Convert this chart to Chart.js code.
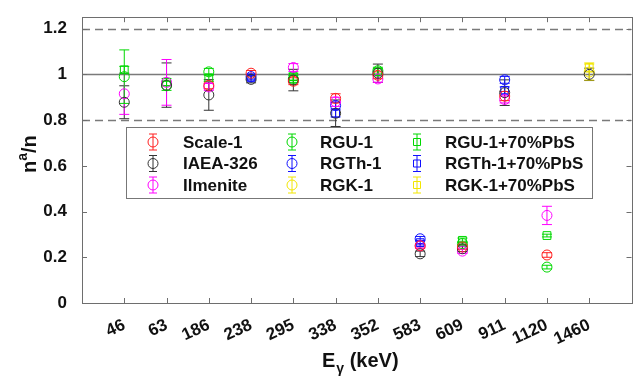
<!DOCTYPE html>
<html><head><meta charset="utf-8">
<script src="https://cdn.jsdelivr.net/npm/chart.js@4.4.0/dist/chart.umd.min.js"></script>
<style>html,body{margin:0;padding:0;background:#fff;overflow:hidden}canvas{display:block}</style>
</head><body>
<canvas id="c" width="638" height="378"></canvas>
<script>
// ---- data ----
const energies = ['46','63','186','238','295','338','352','583','609','911','1120','1460'];
const yTicks = [0, 0.2, 0.4, 0.6, 0.8, 1, 1.2];
const yTickLabels = ['0', '0.2', '0.4', '0.6', '0.8', '1', '1.2'];
const refLines = [0.8, 1, 1.2];

const seriesNames = ['Scale-1','IAEA-326','Ilmenite','RGU-1','RGTh-1','RGK-1','RGU-1+70%PbS','RGTh-1+70%PbS','RGK-1+70%PbS'];

const scale1      = [null, null, 0.952, 1.005, 0.970, 0.895, 0.996, 0.250, 0.245, 0.905, 0.210, null];
const scale1Err   = [null, null, 0.015, 0.012, 0.015, 0.020, 0.015, 0.010, 0.010, 0.020, 0.010, null];
const iaea326     = [0.878, 0.953, 0.910, 0.978, 0.975, 0.830, 1.005, 0.215, 0.237, 0.920, null, 1.000];
const iaea326Err  = [0.072, 0.097, 0.067, 0.015, 0.047, 0.058, 0.040, 0.012, 0.012, 0.056, null, 0.027];
const ilmenite    = [0.915, 0.965, 0.945, null, 1.030, 0.880, 0.980, 0.250, 0.227, 0.890, 0.383, null];
const ilmeniteErr = [0.090, 0.100, 0.015, null, 0.017, 0.020, 0.015, 0.010, 0.010, 0.015, 0.040, null];
const rgu1        = [0.990, 0.950, 1.011, null, 0.980, null, 1.016, null, 0.260, null, 0.157, null];
const rgu1Err     = [0.117, 0.020, 0.015, null, 0.015, null, 0.015, null, 0.010, null, 0.008, null];
const rgth1       = [null, null, null, 0.990, null, 0.864, null, 0.281, null, 0.976, null, null];
const rgth1Err    = [null, null, null, 0.010, null, 0.015, null, 0.010, null, 0.015, null, null];
const rgk1        = [null, null, null, null, null, null, null, null, null, null, null, 1.010];
const rgk1Err     = [null, null, null, null, null, null, null, null, null, null, null, 0.035];
const rgu1Pbs     = [1.020, 0.966, 0.985, null, 0.990, null, 1.010, null, 0.274, null, 0.295, null];
const rgu1PbsErr  = [0.015, 0.015, 0.015, null, 0.015, null, 0.015, null, 0.010, null, 0.006, null];
const rgth1Pbs    = [null, null, null, 0.985, null, 0.829, null, 0.264, null, 0.930, null, null];
const rgth1PbsErr = [null, null, null, 0.010, null, 0.015, null, 0.010, null, 0.015, null, null];
const rgk1Pbs     = [null, null, null, null, null, null, null, null, null, null, null, 1.030];
const rgk1PbsErr  = [null, null, null, null, null, null, null, null, null, null, null, 0.020];

const seriesValues = [scale1, iaea326, ilmenite, rgu1, rgth1, rgk1, rgu1Pbs, rgth1Pbs, rgk1Pbs];
const seriesErrors = [scale1Err, iaea326Err, ilmeniteErr, rgu1Err, rgth1Err, rgk1Err, rgu1PbsErr, rgth1PbsErr, rgk1PbsErr];
const seriesColors = ['#ff2020','#333333','#ff00ff','#00d800','#1010ff','#f2e600','#00d800','#1010ff','#f2e600'];
const seriesMarkers = ['circle','circle','circle','circle','circle','circle','rect','rect','rect'];

// ---- build ----
const datasets = seriesNames.map((name, s) => ({
  label: name,
  data: seriesValues[s].map((v, i) => v == null ? null : { x: i + 1, y: v, e: seriesErrors[s][i] }).filter(p => p),
  borderColor: seriesColors[s],
  backgroundColor: 'rgba(0,0,0,0)',
  pointStyle: seriesMarkers[s],
  pointRadius: seriesMarkers[s] === 'rect' ? 5.5 : 5,
  pointHoverRadius: seriesMarkers[s] === 'rect' ? 5.5 : 5,
  pointBorderWidth: 1,
  showLine: false
}));

const FONT = 'Liberation Sans, Arial, sans-serif';
const AXIS_COLOR = '#6e6e6e';

const decor = {
  id: 'decor',
  beforeDatasetsDraw(chart) {
    const { ctx, chartArea: a, scales: { x, y } } = chart;
    ctx.save();
    ctx.beginPath(); ctx.rect(a.left, a.top, a.right - a.left, a.bottom - a.top); ctx.clip();
    // reference lines
    ctx.strokeStyle = '#7a7a7a';
    ctx.lineWidth = 1.5;
    refLines.forEach(v => {
      ctx.setLineDash(v === 1 ? [] : [8, 5]);
      const py = Math.round(y.getPixelForValue(v)) + 0.5;
      ctx.beginPath(); ctx.moveTo(a.left, py); ctx.lineTo(a.right, py); ctx.stroke();
    });
    ctx.setLineDash([]);
    // error bars
    ctx.lineWidth = 1;
    chart.data.datasets.forEach((ds, s) => {
      ctx.strokeStyle = ds.borderColor;
      ds.data.forEach(p => {
        if (p.e == null) return;
        const px = x.getPixelForValue(p.x);
        const y1 = y.getPixelForValue(p.y - p.e), y2 = y.getPixelForValue(p.y + p.e);
        ctx.beginPath();
        ctx.moveTo(px, y1); ctx.lineTo(px, y2);
        ctx.moveTo(px - 5, y1); ctx.lineTo(px + 5, y1);
        ctx.moveTo(px - 5, y2); ctx.lineTo(px + 5, y2);
        ctx.stroke();
      });
    });
    ctx.restore();
  },
  afterDraw(chart) {
    const { ctx, chartArea: a, scales: { x, y } } = chart;
    ctx.save();
    // box
    ctx.strokeStyle = AXIS_COLOR; ctx.lineWidth = 1;
    ctx.strokeRect(Math.round(a.left) + 0.5, Math.round(a.top) + 0.5, Math.round(a.right - a.left), Math.round(a.bottom - a.top));
    // inner ticks
    ctx.beginPath();
    energies.forEach((e, i) => {
      const px = Math.round(x.getPixelForValue(i + 1)) + 0.5;
      ctx.moveTo(px, a.bottom); ctx.lineTo(px, a.bottom - 5);
      ctx.moveTo(px, a.top); ctx.lineTo(px, a.top + 5);
    });
    yTicks.forEach(v => {
      const py = Math.round(y.getPixelForValue(v)) + 0.5;
      ctx.moveTo(a.left, py); ctx.lineTo(a.left + 5, py);
      ctx.moveTo(a.right, py); ctx.lineTo(a.right - 5, py);
    });
    ctx.stroke();

    // legend
    const lx = 126, ly = 127, lw = 466, lh = 71;
    ctx.fillStyle = '#fff';
    ctx.fillRect(lx, ly, lw, lh);
    ctx.strokeStyle = '#777'; ctx.lineWidth = 1;
    ctx.strokeRect(lx + 0.5, ly + 0.5, lw, lh);
    const colMarker = [153, 292, 417];
    const colText = [183, 320, 445];
    const rowY = [142, 163.5, 185];
    ctx.font = 'bold 17px ' + FONT;
    ctx.textBaseline = 'middle';
    ctx.textAlign = 'left';
    seriesNames.forEach((name, s) => {
      const c = Math.floor(s / 3), r = s % 3;
      const mx = colMarker[c], my = rowY[r];
      ctx.strokeStyle = seriesColors[s]; ctx.lineWidth = 1;
      ctx.beginPath();
      ctx.moveTo(mx, my - 8); ctx.lineTo(mx, my + 8);
      ctx.moveTo(mx - 4, my - 8); ctx.lineTo(mx + 4, my - 8);
      ctx.moveTo(mx - 4, my + 8); ctx.lineTo(mx + 4, my + 8);
      if (seriesMarkers[s] === 'rect') ctx.rect(mx - 3.5, my - 3.5, 7, 7);
      else { ctx.moveTo(mx + 5, my); ctx.arc(mx, my, 5, 0, Math.PI * 2); }
      ctx.stroke();
      ctx.fillStyle = '#111';
      ctx.fillText(name, colText[c], my + 1);
    });

    // axis titles
    ctx.fillStyle = '#111';
    ctx.textBaseline = 'alphabetic';
    // x title: E_gamma (keV)
    const big = 'bold 20px ' + FONT, small = 'bold 14px ' + FONT;
    ctx.font = big; const wE = ctx.measureText('E').width;
    ctx.font = small; const wG = ctx.measureText('\u03B3').width;
    ctx.font = big; const wK = ctx.measureText(' (keV)').width;
    let tx = (a.left + a.right) / 2 - (wE + wG + wK) / 2 + 3;
    const ty = 367;
    ctx.textAlign = 'left';
    ctx.font = big; ctx.fillText('E', tx, ty); tx += wE + 1;
    ctx.font = small; ctx.fillText('\u03B3', tx, ty + 6); tx += wG;
    ctx.font = big; ctx.fillText(' (keV)', tx, ty);
    // y title: n^a/n
    ctx.translate(36, (a.top + a.bottom) / 2 - 6);
    ctx.rotate(-Math.PI / 2);
    ctx.font = big; const wn = ctx.measureText('n').width;
    ctx.font = small; const wa = ctx.measureText('a').width;
    ctx.font = big; const ws = ctx.measureText('/n').width;
    let t2 = -(wn + wa + ws) / 2;
    ctx.font = big; ctx.fillText('n', t2, 0); t2 += wn;
    ctx.font = small; ctx.fillText('a', t2, -9); t2 += wa;
    ctx.font = big; ctx.fillText('/n', t2, 0);
    ctx.restore();
  }
};

new Chart(document.getElementById('c'), {
  type: 'scatter',
  data: { datasets },
  options: {
    responsive: false,
    animation: false,
    devicePixelRatio: 1,
    layout: { padding: { top: 9, right: 5, left: 0, bottom: 0 } },
    plugins: { legend: { display: false }, tooltip: { enabled: false } },
    scales: {
      x: {
        type: 'linear', min: 0, max: 13,
        grid: { display: false }, border: { display: false },
        afterBuildTicks: sc => { sc.ticks = energies.map((e, i) => ({ value: i + 1 })); },
        afterFit: sc => { sc.height = 75; },
        ticks: {
          autoSkip: false, minRotation: 25, maxRotation: 25, padding: 4,
          color: '#111', font: { family: FONT, size: 17, weight: 'bold' },
          callback: (v) => energies[v - 1]
        }
      },
      y: {
        min: 0, max: 1.25,
        grid: { display: false }, border: { display: false },
        afterBuildTicks: sc => { sc.ticks = yTicks.map(v => ({ value: v })); },
        afterFit: sc => { sc.width = 82; },
        ticks: {
          padding: 7, color: '#111', font: { family: FONT, size: 17, weight: 'bold' },
          callback: (v) => yTickLabels[yTicks.indexOf(v)]
        }
      }
    }
  },
  plugins: [decor]
});
</script>
</body></html>
